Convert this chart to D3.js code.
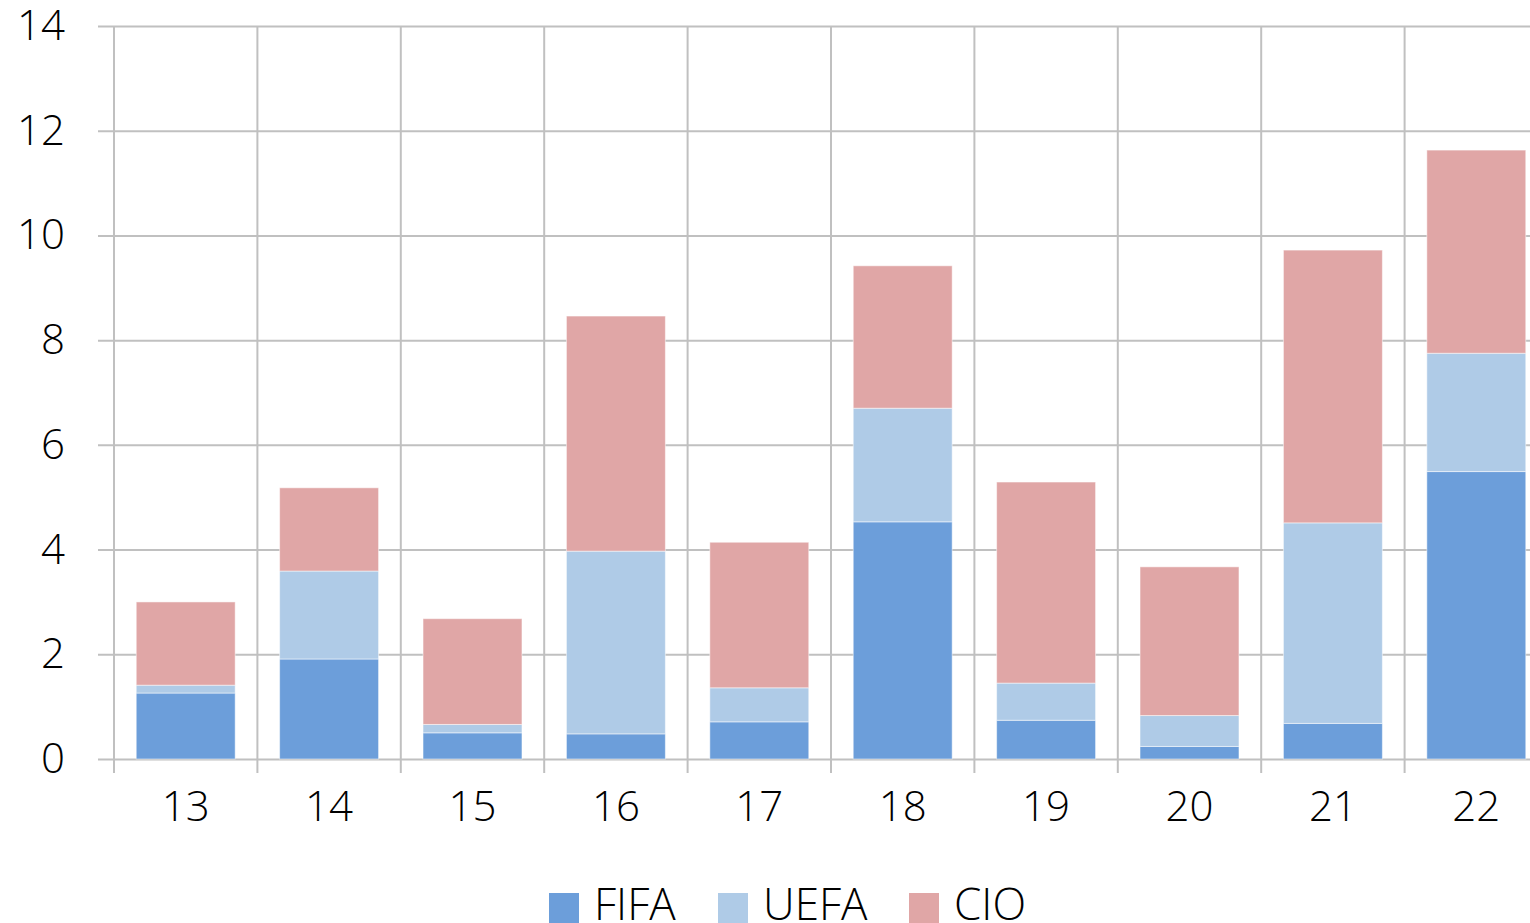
<!DOCTYPE html>
<html>
<head>
<meta charset="utf-8">
<script src="https://cdn.jsdelivr.net/npm/d3@7"></script>
<style>
  html, body { margin: 0; padding: 0; background: #fff; }
  svg { display: block; }
  text { font-family: "Open Sans", "Noto Sans", sans-serif; font-weight: 300; fill: #000; }
</style>
</head>
<body>
<svg id="chart" width="1530" height="923"></svg>
<script>
const categories = ["13", "14", "15", "16", "17", "18", "19", "20", "21", "22"];
const seriesNames = ["FIFA", "UEFA", "CIO"];
const fifa = [1.26, 1.91, 0.50, 0.48, 0.71, 4.53, 0.74, 0.24, 0.68, 5.49];
const uefa = [0.15, 1.68, 0.16, 3.49, 0.65, 2.17, 0.71, 0.59, 3.83, 2.26];
const cio  = [1.59, 1.59, 2.02, 4.49, 2.78, 2.72, 3.84, 2.84, 5.21, 3.88];
const yTicks = [0, 2, 4, 6, 8, 10, 12, 14];
const colors = ["#6C9EDA", "#AFCBE7", "#E0A6A6"];

const rows = categories.map((c, i) => ({ cat: c, FIFA: fifa[i], UEFA: uefa[i], CIO: cio[i] }));
const stack = d3.stack().keys(seriesNames)(rows);

const svg = d3.select("#chart");
const W = 1530;
const plotLeft = 114, step = 143.4;
const x = d3.scaleBand().domain(categories)
  .range([plotLeft, plotLeft + step * categories.length])
  .paddingInner(0.31).paddingOuter(0.155);
const y = d3.scaleLinear().domain([0, 14]).range([759, 26]);

const grid = "#C0C0C0";

// horizontal gridlines + y labels
const yAxis = d3.axisLeft(y).tickValues(yTicks).tickSize(-(W - 98)).tickPadding(33).tickFormat(d3.format("d"));
const ya = svg.append("g").attr("transform", "translate(98,0)").call(yAxis);
ya.select(".domain").remove();
ya.selectAll(".tick line").attr("stroke", grid).attr("stroke-width", 2);
ya.selectAll(".tick text").attr("font-size", 42).attr("font-family", "'Open Sans', sans-serif")
  .attr("font-weight", 300).attr("fill", "#000");

// vertical category boundary lines (incl. y axis line)
const boundX = d3.range(categories.length).map(i => x.range()[0] + i * x.step());
svg.append("g").selectAll("line").data(boundX).join("line")
  .attr("x1", d => d).attr("x2", d => d)
  .attr("y1", y(14)).attr("y2", 773)
  .attr("stroke", grid).attr("stroke-width", 2);

// bars
svg.append("g").selectAll("g").data(stack).join("g")
  .attr("fill", (d, i) => colors[i])
  .selectAll("rect").data(d => d).join("rect")
  .attr("x", d => x(d.data.cat))
  .attr("width", x.bandwidth())
  .attr("y", d => y(d[1]))
  .attr("height", d => y(d[0]) - y(d[1]))
  .attr("stroke", "rgba(255,255,255,0.5)").attr("stroke-width", 1);

// x labels
svg.append("g").selectAll("text").data(categories).join("text")
  .attr("x", d => x(d) + x.bandwidth() / 2)
  .attr("y", 821)
  .attr("text-anchor", "middle")
  .attr("font-size", 42)
  .text(d => d);

// legend
const legendX = [549, 718, 909];
const lg = svg.append("g").selectAll("g").data(seriesNames).join("g")
  .attr("transform", (d, i) => `translate(${legendX[i]},0)`);
lg.append("rect").attr("x", 0).attr("y", 893).attr("width", 30).attr("height", 30)
  .attr("fill", (d, i) => colors[i]);
lg.append("text").attr("x", 45).attr("y", 920).attr("font-size", 44).text(d => d);
</script>
</body>
</html>
